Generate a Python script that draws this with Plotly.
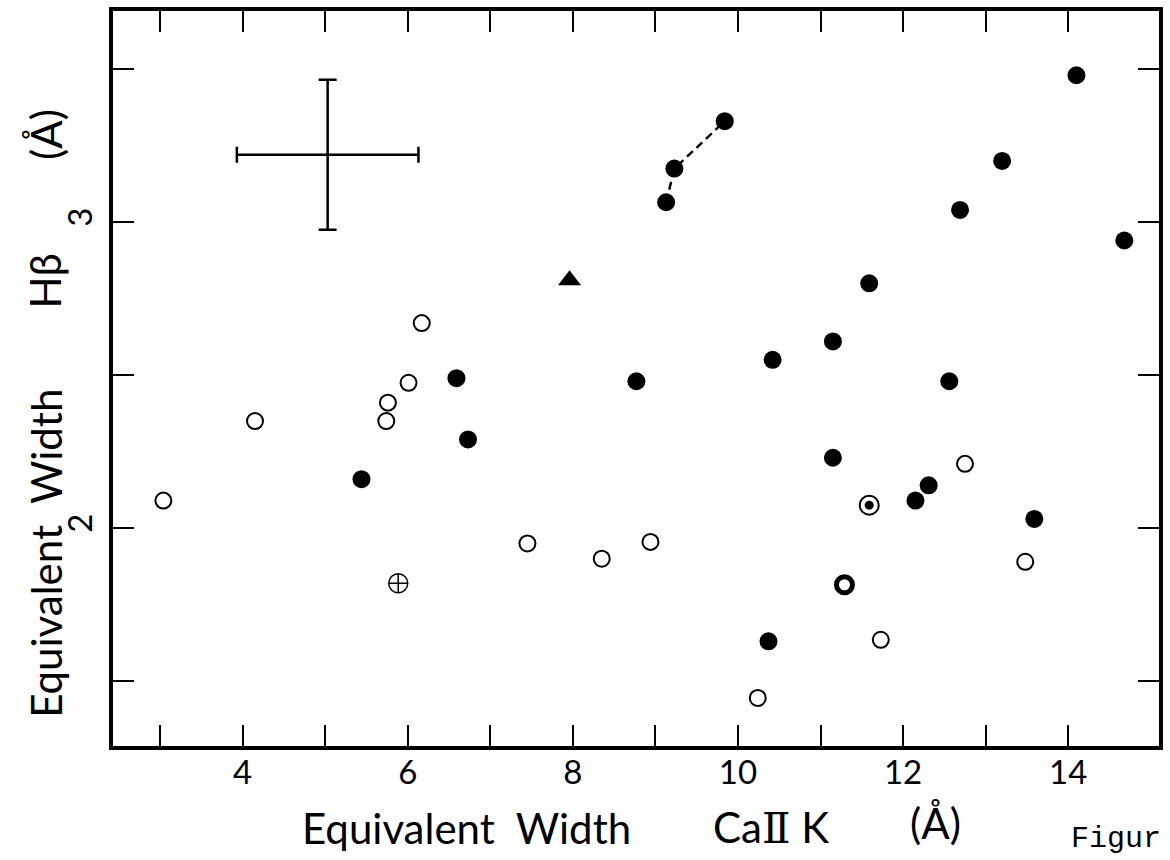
import plotly.graph_objects as go

# ---- data ----
filled_x = [5.44, 6.59, 6.73, 8.77, 10.42, 10.37, 11.15, 11.15, 11.59, 12.15, 12.31, 12.56, 12.69, 13.20, 13.59, 14.10, 14.68]
filled_y = [2.16, 2.49, 2.29, 2.48, 2.55, 1.63, 2.61, 2.23, 2.80, 2.09, 2.14, 2.48, 3.04, 3.20, 2.03, 3.48, 2.94]

linked_x = [9.13, 9.23, 9.84]
linked_y = [3.065, 3.175, 3.33]

open_x = [3.04, 4.15, 5.74, 5.76, 6.01, 6.17, 7.45, 8.35, 8.94, 10.24, 11.73, 12.75, 13.48]
open_y = [2.09, 2.35, 2.35, 2.41, 2.475, 2.67, 1.95, 1.90, 1.955, 1.445, 1.635, 2.21, 1.89]

triangle_x = [7.96]
triangle_y = [2.81]

crossed_x = [5.885]
crossed_y = [1.82]

dotted_x = [11.59]
dotted_y = [2.075]

ring_x = [11.29]
ring_y = [1.815]

err_x = [5.03]
err_y = [3.22]
err_dx = [1.1]
err_dy = [0.245]

x_ticks = [3, 4, 5, 6, 7, 8, 9, 10, 11, 12, 13, 14]
x_ticktext = ["", "4", "", "6", "", "8", "", "10", "", "12", "", "14"]
y_ticks = [1.5, 2.0, 2.5, 3.0, 3.5]
y_ticktext = ["", "2", "", "3", ""]

FONT = "Lato"
INK = "black"

W, H = 1170, 860
L, R, T, B = 113, 7, 9, 114
PW, PH = W - L - R, H - T - B


def px_x(v):
    return (v - L) / PW


def px_y(v):
    return 1 - (v - T) / PH


fig = go.Figure()

# representative error cross
fig.add_trace(go.Scatter(
    x=err_x, y=err_y, mode="markers",
    marker=dict(size=1, color=INK),
    error_x=dict(type="data", array=err_dx, color=INK, thickness=2.5, width=8),
    error_y=dict(type="data", array=err_dy, color=INK, thickness=2.5, width=9),
    showlegend=False, hoverinfo="skip"))

# dashed link
fig.add_trace(go.Scatter(
    x=linked_x, y=linked_y, mode="lines+markers",
    line=dict(color=INK, width=2.4, dash="8px,5px"),
    marker=dict(symbol="circle", size=18, color=INK),
    showlegend=False))

fig.add_trace(go.Scatter(
    x=filled_x, y=filled_y, mode="markers",
    marker=dict(symbol="circle", size=18, color=INK),
    showlegend=False))

fig.add_trace(go.Scatter(
    x=open_x, y=open_y, mode="markers",
    marker=dict(symbol="circle-open", size=16, color=INK, line=dict(width=2, color=INK)),
    showlegend=False))

fig.add_trace(go.Scatter(
    x=triangle_x, y=triangle_y, mode="markers",
    marker=dict(symbol="triangle-up", size=20, color=INK),
    showlegend=False))

fig.add_trace(go.Scatter(
    x=crossed_x, y=crossed_y, mode="markers",
    marker=dict(symbol="circle-cross-open", size=19, color=INK, line=dict(width=1.5, color=INK)),
    showlegend=False))

fig.add_trace(go.Scatter(
    x=dotted_x, y=dotted_y, mode="markers",
    marker=dict(symbol="circle-open", size=19, color=INK, line=dict(width=2, color=INK)),
    showlegend=False))
fig.add_trace(go.Scatter(
    x=dotted_x, y=dotted_y, mode="markers",
    marker=dict(symbol="circle", size=9, color=INK),
    showlegend=False))

fig.add_trace(go.Scatter(
    x=ring_x, y=ring_y, mode="markers",
    marker=dict(symbol="circle-open", size=16, color=INK, line=dict(width=5, color=INK)),
    showlegend=False))

axis_common = dict(
    showgrid=False, zeroline=False, showline=True, linecolor=INK, linewidth=3.5,
    mirror="allticks", ticks="inside", ticklen=21, tickwidth=2.2, tickcolor=INK,
    tickfont=dict(family=FONT, size=33, color=INK),
)

fig.update_xaxes(range=[2.43, 15.1], tickmode="array", tickvals=x_ticks, ticktext=x_ticktext,
                 ticklabelstandoff=-5, **axis_common)
fig.update_yaxes(range=[1.288, 3.69], tickmode="array", tickvals=y_ticks, ticktext=y_ticktext,
                 tickangle=-90, ticklabelstandoff=4, **axis_common)

title_font = dict(family=FONT, size=42, color=INK)
roman_two = "<span style='font-family:DejaVu Serif'>Ⅱ</span>"

x_titles = [
    ("Equivalent  Width", 468, 828),
    ("Ca" + roman_two + " K", 774, 828),
    ("(Å)", 939, 823),
]
for text, x, y in x_titles:
    fig.add_annotation(text=text, x=px_x(x), y=px_y(y), xref="paper", yref="paper",
                       showarrow=False, xanchor="center", yanchor="middle", font=title_font)

y_titles = [
    ("Equivalent  Width", 45, 553),
    ("Hβ", 45, 280),
    ("(Å)", 45, 133),
]
for text, x, y in y_titles:
    fig.add_annotation(text=text, x=px_x(x), y=px_y(y), xref="paper", yref="paper",
                       showarrow=False, textangle=-90, xanchor="center", yanchor="middle",
                       font=title_font)

fig.add_annotation(text="Figur", x=px_x(1073), y=px_y(839), xref="paper", yref="paper",
                   showarrow=False, xanchor="left", yanchor="middle",
                   font=dict(family="Liberation Mono", size=30, color=INK))

fig.update_layout(
    width=W, height=H, margin=dict(l=L, r=R, t=T, b=B, pad=0),
    plot_bgcolor="white", paper_bgcolor="white",
    font=dict(family=FONT, color=INK),
)

fig.write_html("out.html", config={"displayModeBar": False},
               post_script="document.body.style.margin='0';")
